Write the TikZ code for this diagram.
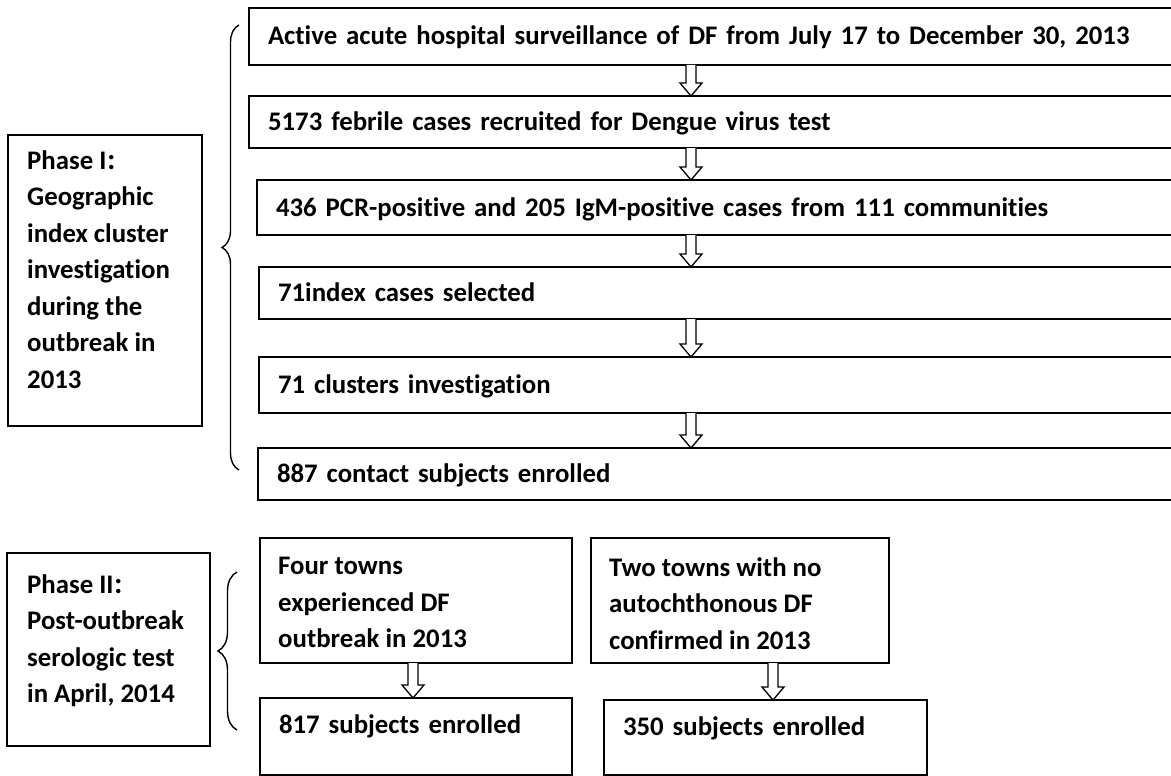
\documentclass[tikz,border=0pt]{standalone}
\usepackage{fontspec}
\setmainfont{Carlito}[Ligatures=NoCommon]
\newfontfamily\cjk{Noto Sans CJK SC}
\usetikzlibrary{decorations.pathreplacing,calc}
\newcommand\hollowdown[3]{%
  \path[harrow] let \p1=(#1.south), \p2=(#2.north) in
    (#3-5,\y1) -- (#3-5,\y2+13pt) -- (#3-11,\y2+13pt) -- (#3,\y2)
    -- (#3+11,\y2+13pt) -- (#3+5,\y2+13pt) -- (#3+5,\y1);}
\newcommand\wcolon{{\cjk\fontsize{21}{21}\selectfont ：}}
\begin{document}
\begin{tikzpicture}[x=1pt,y=-1pt,
  every node/.style={font=\bfseries\fontsize{26.8}{36.5}\selectfont},
  box/.style={draw=black, line width=1.6pt, anchor=north west, inner sep=0pt, outer sep=0pt},
  linebox/.style={box, text height=17pt, text depth=0pt, align=left, inner xsep=19pt},
  txt/.style={anchor=north west, align=left, inner sep=0pt},
  harrow/.style={draw=black, line width=1.3pt, fill=white, line join=miter},
  bracestyle/.style={draw=black, line width=1.4pt, decorate, decoration={brace, amplitude=#1}}
]
\useasboundingbox (0,0) rectangle (1171,776);
% Phase I column
\node[linebox, minimum height=57pt, text width=893pt] (b1) at (249,8) {Active acute hospital surveillance of DF from July 17 to December 30, 2013};
\node[linebox, minimum height=52pt, text width=893pt] (b2) at (249,96) {5173 febrile cases recruited for Dengue virus test};
\node[linebox, minimum height=55pt, text width=885pt] (b3) at (257,180) {436 PCR-positive and 205 IgM-positive cases from 111 communities};
\node[linebox, minimum height=52pt, text width=883pt] (b4) at (259,267) {71index cases selected};
\node[linebox, minimum height=56pt, text width=883pt] (b5) at (259,357) {71 clusters investigation};
\node[linebox, minimum height=52pt, text width=884pt] (b6) at (258,448) {887 contact subjects enrolled};
\hollowdown{b1}{b2}{691}
\hollowdown{b2}{b3}{691}
\hollowdown{b3}{b4}{691}
\hollowdown{b4}{b5}{691}
\hollowdown{b5}{b6}{691}
% Phase I label
\node[box, minimum width=194pt, minimum height=291pt] (p1) at (8,135) {};
\node[txt] (p1t) at (27,150) {Phase I\wcolon\\Geographic\\index cluster\\investigation\\during the\\outbreak in\\2013};
\coordinate (br1a) at (239,470);
\coordinate (br1b) at (239,25);
\draw[bracestyle=17pt] (br1a) -- (br1b);
% Phase II
\node[box, minimum width=203pt, minimum height=193pt] (p2) at (7,553) {};
\node[txt] (p2t) at (27,574) {Phase II\wcolon\\Post-outbreak\\serologic test\\in April, 2014};
\coordinate (br2a) at (237,730);
\coordinate (br2b) at (237,572);
\draw[bracestyle=19pt] (br2a) -- (br2b);
\node[box, minimum width=312pt, minimum height=125pt] (four) at (260,538) {};
\node[txt] (fourt) at (278,557) {Four towns\\experienced DF\\outbreak in 2013};
\node[box, minimum width=298pt, minimum height=125pt] (two) at (591,538) {};
\node[txt] (twot) at (609,557) {Two towns with no\\autochthonous DF\\confirmed in 2013};
\node[linebox, text depth=24pt, minimum height=77pt, text width=274pt] (s817) at (260,698) {817 subjects enrolled};
\node[linebox, text depth=22pt, minimum height=75pt, text width=285pt] (s350) at (604,700) {350 subjects enrolled};
\hollowdown{four}{s817}{413}
\hollowdown{two}{s350}{773}
\end{tikzpicture}
\end{document}
